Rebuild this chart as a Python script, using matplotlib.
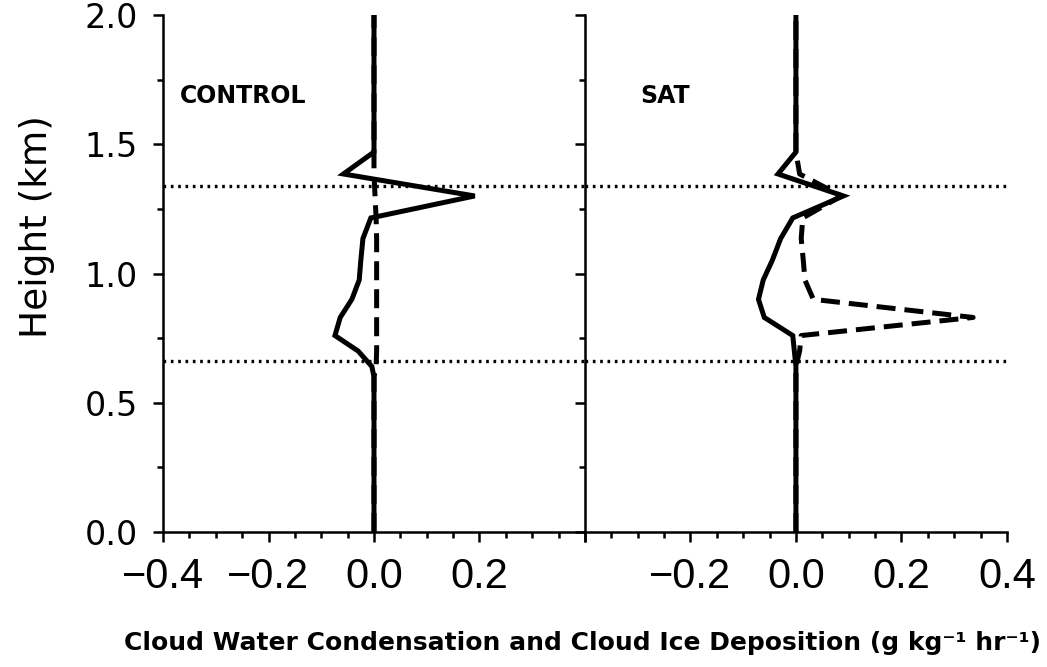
import matplotlib
matplotlib.use("Agg")
import matplotlib.pyplot as plt
from matplotlib import font_manager
from matplotlib.ticker import MultipleLocator, FixedLocator

# model levels (km) and profiles
heights = [0.0, 0.60, 0.64, 0.70, 0.76, 0.83, 0.90, 0.975, 1.05, 1.135, 1.215, 1.30, 1.385, 1.47, 2.0]

control_solid = [0, 0, -0.004, -0.030, -0.074, -0.064, -0.042, -0.028, -0.025, -0.021, -0.006, 0.191, -0.058, 0, 0]
control_dash = [0, 0, 0.004, 0.005, 0.005, 0.005, 0.005, 0.005, 0.005, 0.005, 0.004, 0.002, 0.0, 0, 0]
sat_solid = [0, 0, 0, -0.003, -0.006, -0.060, -0.071, -0.062, -0.045, -0.029, -0.006, 0.090, -0.034, 0, 0]
sat_dash = [0, 0, 0, 0.007, 0.010, 0.336, 0.033, 0.017, 0.014, 0.010, 0.013, 0.086, 0.007, 0, 0]

cloud_levels = [0.66, 1.34]

xticks = [-0.4, -0.2, 0.0, 0.2, 0.4]
left_xlabels = ["\u22120.4", "\u22120.2", "0.0", "0.2", ""]
right_xlabels = ["", "\u22120.2", "0.0", "0.2", "0.4"]

# narrow font for the bold labels if there is one
installed = {f.name for f in font_manager.fontManager.ttflist}
narrow = "Liberation Sans Narrow" in installed
if narrow:
    bold_font = "Liberation Sans Narrow"
    panel_size, xlabel_size = 21, 21
else:
    bold_font = "DejaVu Sans"
    panel_size, xlabel_size = 17, 18

fig = plt.figure(figsize=(10.47, 6.67), dpi=100)
ax1 = fig.add_axes([0.1557, 0.2024, 0.4030, 0.7751])
ax2 = fig.add_axes([0.5587, 0.2024, 0.4030, 0.7751])

panels = [
    (ax1, control_solid, control_dash, "CONTROL", -0.368, left_xlabels),
    (ax2, sat_solid, sat_dash, "SAT", -0.296, right_xlabels),
]

for ax, solid, dash, name, tx, xl in panels:
    ax.plot(solid, heights, color="black", lw=3.6, solid_joinstyle="miter")
    ax.plot(dash, heights, color="black", lw=3.6, linestyle=(0, (3.8, 1.8)))
    for h in cloud_levels:
        ax.axhline(h, color="black", lw=2.4, linestyle=(0, (0.8, 1.4)))
    ax.text(tx, 1.687, name, fontsize=panel_size, fontweight="bold",
            fontfamily=bold_font, va="center", ha="left")

    ax.set_xlim(-0.4, 0.4)
    ax.set_ylim(0, 2.0)
    ax.spines["top"].set_visible(False)
    ax.spines["right"].set_visible(False)
    for s in ("left", "bottom"):
        ax.spines[s].set_linewidth(1.8)

    ax.xaxis.set_major_locator(FixedLocator(xticks))
    ax.set_xticklabels(xl, fontfamily="Liberation Sans", fontsize=30)
    ax.xaxis.set_minor_locator(MultipleLocator(0.05))
    ax.yaxis.set_major_locator(MultipleLocator(0.5))
    ax.yaxis.set_minor_locator(MultipleLocator(0.25))
    ax.tick_params(which="major", direction="out", length=7, width=1.8, pad=11)
    ax.tick_params(which="minor", direction="out", length=4, width=1.8)

ax1.set_yticks([0, 0.5, 1.0, 1.5, 2.0])
ax1.set_yticklabels(["0.0", "0.5", "1.0", "1.5", "2.0"], fontsize=24)
ax2.tick_params(axis="y", labelleft=False)

fig.text(0.035, 0.66, "Height (km)", rotation=90, fontsize=27, ha="center", va="center")
fig.text(0.556, 0.036,
         "Cloud Water Condensation and Cloud Ice Deposition (g kg\u207b\u00b9 hr\u207b\u00b9)",
         fontsize=xlabel_size, fontweight="bold", fontfamily=bold_font,
         ha="center", va="center")

fig.savefig("out.png", dpi=100)
